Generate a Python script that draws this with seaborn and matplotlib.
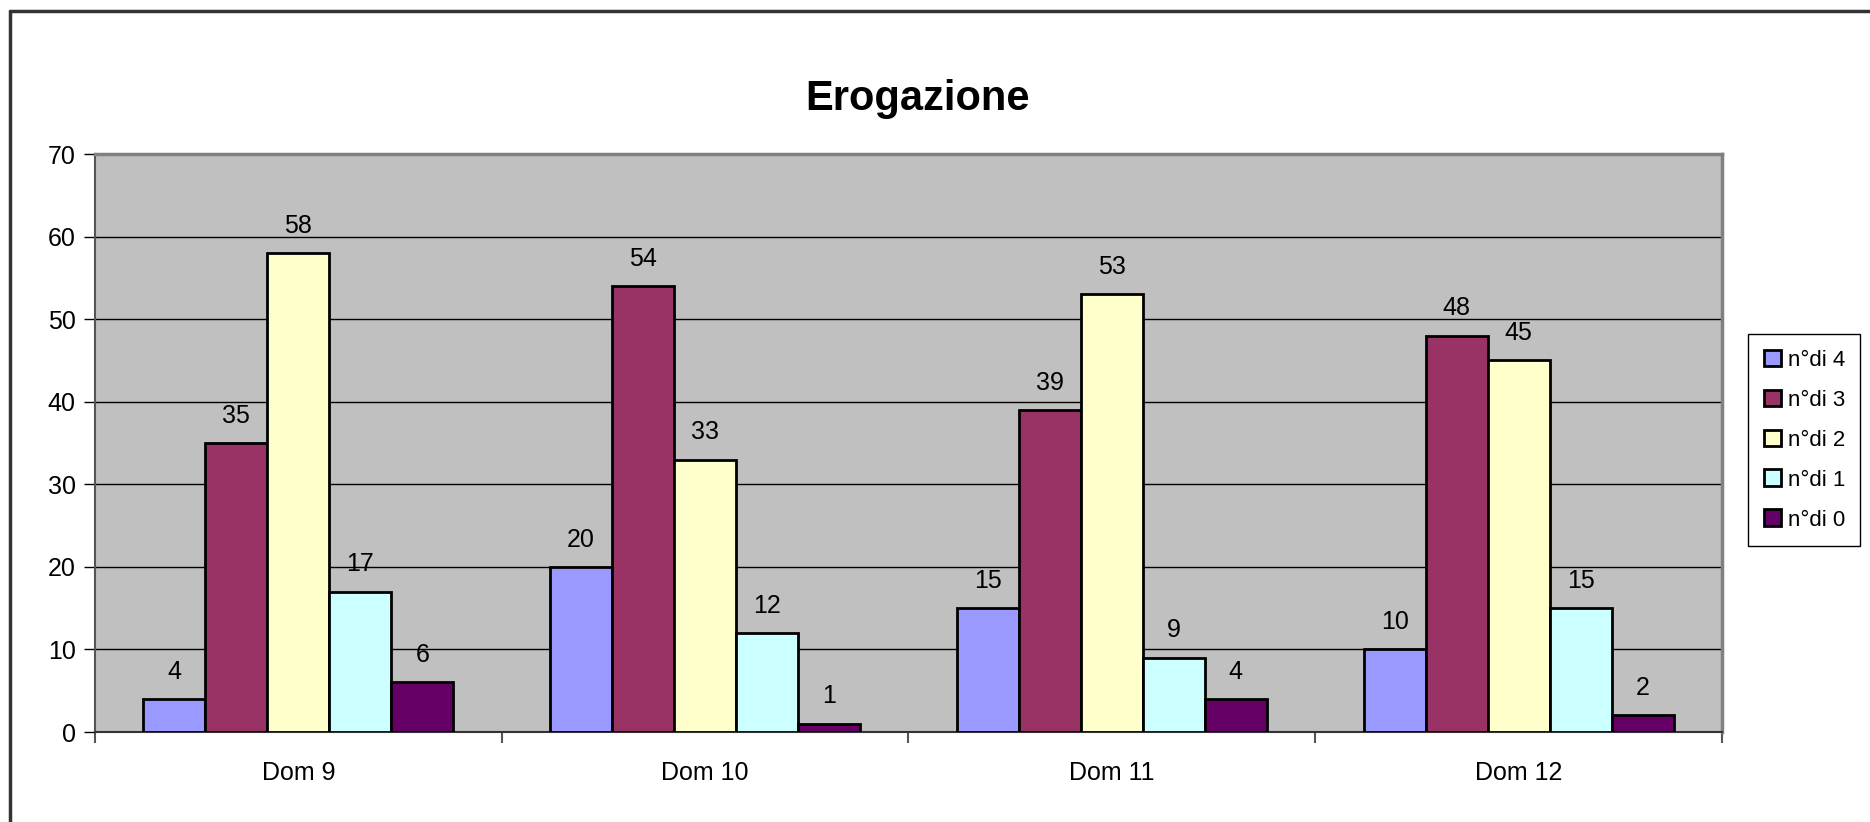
import pandas as pd
import matplotlib.pyplot as plt
import seaborn as sns
from matplotlib.patches import Patch
from matplotlib.lines import Line2D

# data
domande = ["Dom 9", "Dom 10", "Dom 11", "Dom 12"]
serie = ["n°di 4", "n°di 3", "n°di 2", "n°di 1", "n°di 0"]
n4 = [4, 20, 15, 10]
n3 = [35, 54, 39, 48]
n2 = [58, 33, 53, 45]
n1 = [17, 12, 9, 15]
n0 = [6, 1, 4, 2]
colori = ["#9999FF", "#993366", "#FFFFCC", "#CCFFFF", "#660066"]

rows = []
for nome, vals in zip(serie, [n4, n3, n2, n1, n0]):
    for d, v in zip(domande, vals):
        rows.append({"dom": d, "serie": nome, "valore": v})
df = pd.DataFrame(rows)

sns.set_style("white")
plt.rcParams["font.family"] = ["Liberation Sans", "DejaVu Sans"]
plt.rcParams["text.color"] = "black"
plt.rcParams["xtick.color"] = "black"
plt.rcParams["ytick.color"] = "black"

fig = plt.figure(figsize=(18.7, 8.22), dpi=100)
ax = fig.add_axes([95/1870, 1-732/822, (1722-95)/1870, (732-154)/822])
ax.set_facecolor("#C0C0C0")

sns.barplot(data=df, x="dom", y="valore", hue="serie", order=domande,
            hue_order=serie, palette=colori, width=0.762, gap=0,
            edgecolor="black", linewidth=2, saturation=1, ax=ax,
            legend=False, zorder=3)

for cont in ax.containers:
    ax.bar_label(cont, padding=11, fontsize=18, color="black")

ax.set_ylim(0, 70)
ax.set_xlim(-0.5, 3.5)
ax.set_yticks(range(0, 71, 10))
ax.yaxis.grid(True, color="black", linewidth=1, zorder=0)
ax.set_axisbelow(True)
ax.tick_params(axis="y", length=8, width=1, color="black", labelsize=18, pad=6, left=True)

# ticks at category boundaries, labels at centres
ax.set_xticks([-0.5, 0.5, 1.5, 2.5, 3.5])
ax.set_xticklabels([])
ax.tick_params(axis="x", which="major", length=8, width=1.5, color="#555555", bottom=True)
ax.set_xticks(range(4), minor=True)
ax.set_xticklabels(domande, minor=True, fontsize=18)
ax.tick_params(axis="x", which="minor", length=0, pad=21)
ax.set_xlabel("")
ax.set_ylabel("")

for s in ["top", "right"]:
    ax.spines[s].set_color("#808080")
    ax.spines[s].set_linewidth(2.5)
ax.spines["left"].set_color("#555555")
ax.spines["left"].set_linewidth(1.5)
ax.spines["bottom"].set_color("#333333")
ax.spines["bottom"].set_linewidth(1.5)

fig.text(918/1870, 1-99/822, "Erogazione", ha="center", va="center",
         fontsize=30, fontweight="bold")

handles = [Patch(facecolor=c, edgecolor="black", linewidth=2) for c in colori]
leg = ax.legend(handles, serie, loc="upper left",
                bbox_to_anchor=(1748/1870, 1-334/822), bbox_transform=fig.transFigure,
                borderaxespad=0, fontsize=16, frameon=True, fancybox=False,
                edgecolor="black", framealpha=1, labelspacing=0.85,
                handlelength=0.78, handleheight=0.78, handletextpad=0.3,
                borderpad=0.7)
leg.get_frame().set_linewidth(1)

# outer chart border (left and top visible)
fig.add_artist(Line2D([10/1870, 10/1870], [0, 1-11/822], color="#333333", linewidth=2.5))
fig.add_artist(Line2D([10/1870, 1], [1-11/822, 1-11/822], color="#333333", linewidth=2.5))

fig.savefig("out.png", dpi=100)
